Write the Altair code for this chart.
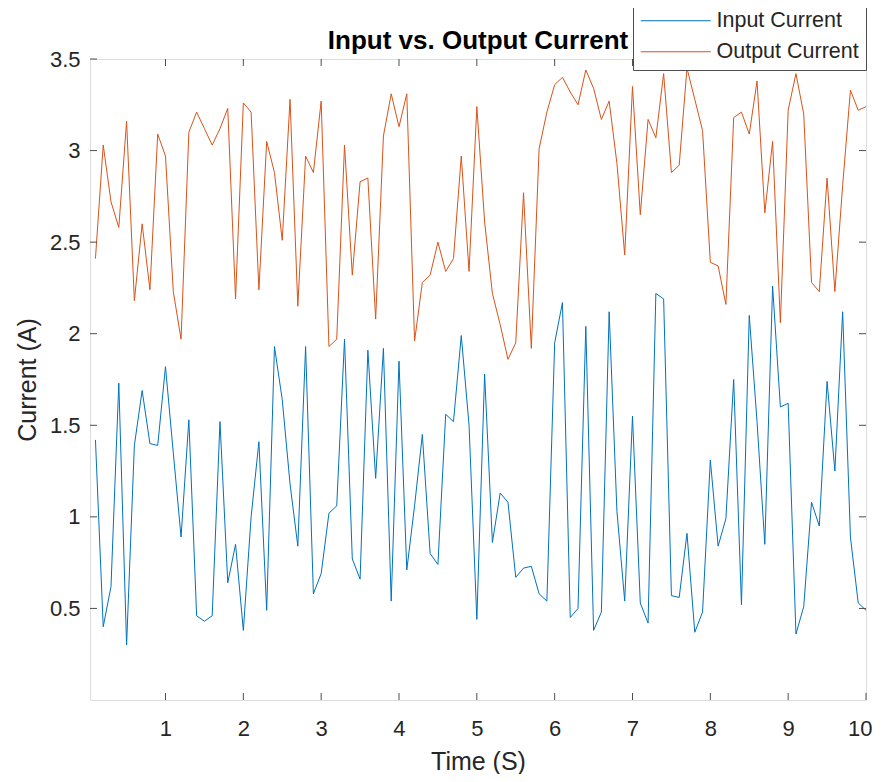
import altair as alt
import pandas as pd

# Time grid (s): 0.1 .. 10.0
time_s = [round(0.1 * k, 1) for k in range(1, 101)]

input_current = [1.42, 0.40, 0.62, 1.73, 0.30, 1.39, 1.69, 1.40, 1.39, 1.82,
                 1.35, 0.89, 1.53, 0.46, 0.43, 0.46, 1.52, 0.64, 0.85, 0.38,
                 1.00, 1.41, 0.49, 1.93, 1.64, 1.18, 0.84, 1.93, 0.58, 0.69,
                 1.02, 1.06, 1.97, 0.77, 0.66, 1.91, 1.21, 1.92, 0.54, 1.85,
                 0.71, 1.06, 1.45, 0.80, 0.74, 1.56, 1.52, 1.99, 1.50, 0.44,
                 1.78, 0.86, 1.13, 1.08, 0.67, 0.72, 0.73, 0.58, 0.54, 1.95,
                 2.17, 0.45, 0.50, 2.04, 0.38, 0.48, 2.12, 1.03, 0.54, 1.55,
                 0.53, 0.42, 2.22, 2.19, 0.57, 0.56, 0.91, 0.37, 0.48, 1.31,
                 0.84, 0.99, 1.75, 0.52, 2.10, 1.52, 0.85, 2.26, 1.60, 1.62,
                 0.36, 0.51, 1.08, 0.95, 1.74, 1.25, 2.12, 0.89, 0.53, 0.49]

output_current = [2.41, 3.03, 2.72, 2.58, 3.16, 2.18, 2.60, 2.24, 3.09, 2.97,
                  2.23, 1.97, 3.10, 3.21, 3.12, 3.03, 3.12, 3.23, 2.19, 3.26,
                  3.21, 2.24, 3.05, 2.88, 2.51, 3.28, 2.15, 2.97, 2.88, 3.27,
                  1.93, 1.97, 3.03, 2.32, 2.83, 2.85, 2.08, 3.08, 3.31, 3.13,
                  3.31, 1.96, 2.28, 2.32, 2.50, 2.34, 2.41, 2.97, 2.34, 3.24,
                  2.61, 2.22, 2.05, 1.86, 1.95, 2.77, 1.92, 3.01, 3.21, 3.36,
                  3.40, 3.32, 3.25, 3.44, 3.34, 3.17, 3.27, 2.93, 2.43, 3.35,
                  2.65, 3.17, 3.07, 3.42, 2.88, 2.92, 3.45, 3.28, 3.11, 2.39,
                  2.37, 2.16, 3.18, 3.21, 3.09, 3.38, 2.66, 3.05, 2.06, 3.22,
                  3.42, 3.20, 2.28, 2.23, 2.85, 2.23, 2.81, 3.33, 3.22, 3.24]

series_names = ["Input Current", "Output Current"]
series_colors = ["#0072BD", "#D95319"]
x_ticks = [1, 2, 3, 4, 5, 6, 7, 8, 9, 10]
y_ticks = [0.5, 1, 1.5, 2, 2.5, 3, 3.5]
title_text = ["Input vs. Output Current"]

W, H = 776, 641
FONT = "Liberation Sans, Arial, Helvetica, sans-serif"
FRAME = "#4d4d4d"
TXT = "#262626"

df = pd.concat([
    pd.DataFrame({"t": time_s, "v": input_current, "series": series_names[0]}),
    pd.DataFrame({"t": time_s, "v": output_current, "series": series_names[1]}),
])

xscale = alt.Scale(domain=[0.03, 10], nice=False, zero=False)
yscale = alt.Scale(domain=[0, 3.5], nice=False, zero=False)

xaxis = alt.Axis(values=x_ticks, title="Time (S)", grid=False, domain=False,
                 ticks=False, tickSize=0, labelFontSize=22, labelFont=FONT,
                 labelColor=TXT, labelPadding=18, titleFontSize=25,
                 titleFont=FONT, titleFontWeight="normal", titleColor=TXT,
                 titlePadding=10, labelFlush=True, labelFlushOffset=6)
yaxis = alt.Axis(values=y_ticks, title="Current (A)", grid=False, domain=False,
                 ticks=False, tickSize=0, labelFontSize=22, labelFont=FONT,
                 labelColor=TXT, labelPadding=10, titleFontSize=25,
                 titleFont=FONT, titleFontWeight="normal", titleColor=TXT,
                 titlePadding=9, labelFlush=False, format="~g")

lines = alt.Chart(df).mark_line(strokeWidth=1).encode(
    x=alt.X("t:Q", scale=xscale, axis=xaxis),
    y=alt.Y("v:Q", scale=yscale, axis=yaxis),
    color=alt.Color("series:N",
                    scale=alt.Scale(domain=series_names, range=series_colors),
                    legend=alt.Legend(
                        title=None, orient="none", legendX=543, legendY=-56,
                        fillColor="white", strokeColor=FRAME, padding=7,
                        symbolType="M-7,0H7", symbolSize=100,
                        symbolStrokeWidth=1.2, symbolOffset=25,
                        labelOffset=30, labelFontSize=21.5, labelFont=FONT,
                        labelColor=TXT, rowPadding=8)),
)

xt_df = pd.DataFrame({"t": x_ticks})
yt_df = pd.DataFrame({"v": y_ticks})

x_ticks_bottom = alt.Chart(xt_df).mark_rule(color=FRAME, strokeWidth=1).encode(
    x=alt.X("t:Q", scale=xscale, axis=xaxis), y=alt.value(H), y2=alt.value(H - 7))
x_ticks_top = alt.Chart(xt_df).mark_rule(color=FRAME, strokeWidth=1).encode(
    x=alt.X("t:Q", scale=xscale, axis=xaxis), y=alt.value(0), y2=alt.value(7))
y_ticks_left = alt.Chart(yt_df).mark_rule(color=FRAME, strokeWidth=1).encode(
    y=alt.Y("v:Q", scale=yscale, axis=yaxis), x=alt.value(0), x2=alt.value(7))
y_ticks_right = alt.Chart(yt_df).mark_rule(color=FRAME, strokeWidth=1).encode(
    y=alt.Y("v:Q", scale=yscale, axis=yaxis), x=alt.value(W), x2=alt.value(W - 7))

title_mark = alt.Chart(pd.DataFrame({"label": title_text})).mark_text(
    font=FONT, fontSize=26, fontWeight="bold", color="black",
    align="center", baseline="alphabetic",
).encode(text="label:N", x=alt.value(W / 2), y=alt.value(-10))

chart = alt.layer(title_mark, lines, x_ticks_bottom, x_ticks_top, y_ticks_left,
                  y_ticks_right).properties(
    width=W, height=H,
    autosize=alt.AutoSizeParams(type="none"),
    padding={"left": 82, "top": 51, "right": 7, "bottom": 74},
).configure_view(stroke=FRAME, strokeWidth=1.2).configure(background="white")

chart.save("out.html", embed_options={"renderer": "svg", "actions": False})
